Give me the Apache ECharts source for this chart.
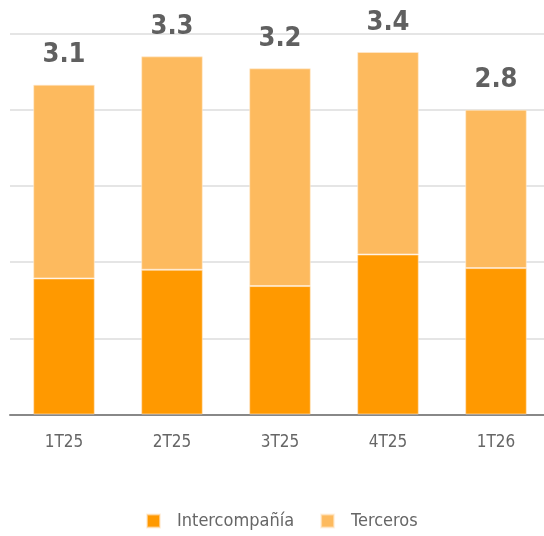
<!DOCTYPE html>
<html>
<head>
<meta charset="utf-8">
<script src="https://cdn.jsdelivr.net/npm/echarts@6/dist/echarts.min.js"></script>
<style>html,body{margin:0;padding:0;background:#fff;overflow:hidden;}#c{width:552px;height:536px;}</style>
</head>
<body>
<div id="c"></div>
<script>
var categories = ['1T25', '2T25', '3T25', '4T25', '1T26'];
var intercompania = [1.25, 1.33, 1.18, 1.47, 1.345];
var terceros = [1.78, 1.96, 2.00, 1.86, 1.455];
var totalLabels = ['3.1', '3.3', '3.2', '3.4', '2.8'];
var seriesNames = ['Intercompañía', 'Terceros'];

var FONT = "'Liberation Sans Narrow', 'DejaVu Sans Condensed', 'Roboto', sans-serif";
var chart = echarts.init(document.getElementById('c'));
chart.setOption({
  animation: false,
  backgroundColor: '#fff',
  textStyle: { fontFamily: FONT },
  grid: { left: 10, right: 2, top: 33.5, bottom: 121.5, containLabel: false },
  legend: {
    bottom: 6,
    left: 146,
    padding: 0,
    itemWidth: 13, itemHeight: 13, itemGap: 26,
    icon: 'rect',
    textStyle: { fontFamily: FONT, fontSize: 18, color: '#666', padding: [0, 0, 0, 12] },
    data: seriesNames
  },
  xAxis: {
    type: 'category',
    data: categories,
    axisLine: { lineStyle: { color: '#888', width: 2 } },
    axisTick: { show: false },
    axisLabel: { color: '#666', fontSize: 17, margin: 20, fontFamily: FONT }
  },
  yAxis: {
    type: 'value',
    min: 0, max: 3.5, interval: 0.7,
    axisLabel: { show: false },
    axisLine: { show: false },
    axisTick: { show: false },
    splitLine: { lineStyle: { color: '#e5e5e5', width: 2 } }
  },
  series: [
    {
      name: seriesNames[0], type: 'bar', stack: 'a', barWidth: '57%',
      data: intercompania,
      itemStyle: { color: '#FF9900', borderColor: 'rgba(255,230,200,0.6)', borderWidth: 1 }
    },
    {
      name: seriesNames[1], type: 'bar', stack: 'a', barWidth: '57%',
      data: terceros,
      itemStyle: { color: '#FDBA5E', borderColor: 'rgba(255,235,210,0.6)', borderWidth: 1 },
      label: {
        show: true, position: 'top', distance: 16,
        fontFamily: FONT, fontSize: 27, fontWeight: 'bold', color: '#606060',
        formatter: function (p) { return totalLabels[p.dataIndex]; }
      }
    }
  ]
});
</script>
</body>
</html>
